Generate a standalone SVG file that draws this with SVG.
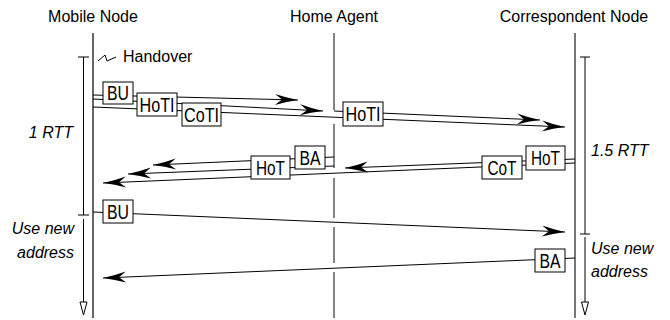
<svg xmlns="http://www.w3.org/2000/svg" width="670" height="320" viewBox="0 0 670 320">
<style>
.hdr { font-family: "Liberation Sans", Arial, sans-serif; font-size: 16px; fill: #000; text-anchor: middle; }
.note { font-family: "Liberation Sans", Arial, sans-serif; font-size: 16px; font-style: italic; fill: #000; }
.lbl { font-family: "Liberation Sans", Arial, sans-serif; font-size: 16px; fill: #000; }
.msg { stroke: #000; stroke-width: 1; fill: none; marker-end: url(#ah); }
.box rect { fill: #fff; stroke: #000; stroke-width: 1; }
.box text { font-family: "Liberation Sans", Arial, sans-serif; font-size: 20px; fill: #000; text-anchor: middle; }
.bar { stroke: #000; stroke-width: 1; fill: none; }
.tri { stroke: #000; stroke-width: 1; fill: #fff; }
</style>
<defs>
<marker id="ah" viewBox="-24 -6 25 12" markerWidth="25" markerHeight="12" refX="0" refY="0" orient="auto" markerUnits="userSpaceOnUse">
<path d="M0,0 Q-12,-2 -23,-5.5 L-16,0 L-23,5.5 Q-12,2 0,0 Z" fill="#000"/>
</marker>
</defs>
<rect width="670" height="320" fill="#fff"/>

<g id="mobile-node">
<text class="hdr" x="93" y="22">Mobile Node</text>
<line x1="93" y1="33" x2="93" y2="318" stroke="#000" stroke-width="1.2"/>
</g>
<g id="home-agent">
<text class="hdr" x="334" y="22">Home Agent</text>
<path d="M334,33 V110 M334,124 V168 M334,178 V218 M334,227 V263 M334,272 V318" stroke="#333" stroke-width="1.2" fill="none"/>
</g>
<g id="correspondent-node">
<text class="hdr" x="574" y="22">Correspondent Node</text>
<line x1="575" y1="33" x2="575" y2="318" stroke="#777" stroke-width="2"/>
</g>

<g id="handover">
<path d="M98,61 L105,55 L107,61 L116,57" stroke="#000" stroke-width="1" fill="none"/>
<text class="lbl" x="123" y="62">Handover</text>
</g>

<g id="time-bars">
<path class="bar" d="M78,57 H89 M83.5,57 V215 M78,215 H89 M83.5,219 V302"/>
<path class="tri" d="M80,302 H87 L83.5,315 Z"/>
<path class="bar" d="M580,57 H590 M585,57 V234 M580,234 H590 M585,237 V302"/>
<path class="tri" d="M581.5,302 H588.5 L585,315 Z"/>
<text class="note" x="73" y="138" text-anchor="end">1 RTT</text>
<text class="note" x="591" y="156">1.5 RTT</text>
<text class="note" x="74" y="234" text-anchor="end">Use new</text>
<text class="note" x="74" y="258" text-anchor="end">address</text>
<text class="note" x="591" y="254">Use new</text>
<text class="note" x="591" y="277">address</text>
</g>

<g id="connectors">
<line class="msg" x1="93" y1="95" x2="298" y2="100"/>
<line class="msg" x1="93" y1="99" x2="323" y2="111"/>
<line class="msg" x1="93" y1="107" x2="565" y2="127"/>
<line class="msg" x1="334" y1="111" x2="540" y2="120"/>
<line class="msg" x1="334" y1="157" x2="153" y2="165"/>
<line class="msg" x1="334" y1="166" x2="128" y2="174"/>
<line class="msg" x1="575" y1="163" x2="103" y2="183"/>
<line class="msg" x1="575" y1="159" x2="345" y2="168"/>
<line class="msg" x1="93" y1="212" x2="565" y2="232"/>
<line class="msg" x1="575" y1="258" x2="103" y2="278"/>
</g>

<g id="bu1" class="box"><rect x="103" y="82" width="30" height="22"/><text x="118" y="100" textLength="22" lengthAdjust="spacingAndGlyphs">BU</text></g>
<g id="hoti1" class="box"><rect x="137" y="93" width="40" height="23"/><text x="157" y="111.5" textLength="35" lengthAdjust="spacingAndGlyphs">HoTI</text></g>
<g id="coti" class="box"><rect x="182" y="103" width="39" height="23"/><text x="201.5" y="121.5" textLength="35" lengthAdjust="spacingAndGlyphs">CoTI</text></g>
<g id="hoti2" class="box"><rect x="343" y="102" width="40" height="24"/><text x="363" y="121" textLength="35" lengthAdjust="spacingAndGlyphs">HoTI</text></g>
<g id="ba1" class="box"><rect x="295" y="146" width="30" height="23"/><text x="310" y="164.5" textLength="21" lengthAdjust="spacingAndGlyphs">BA</text></g>
<g id="hot1" class="box"><rect x="251" y="156" width="39" height="23"/><text x="270.5" y="174.5" textLength="29" lengthAdjust="spacingAndGlyphs">HoT</text></g>
<g id="cot" class="box"><rect x="482" y="156" width="40" height="23"/><text x="502" y="174.5" textLength="29" lengthAdjust="spacingAndGlyphs">CoT</text></g>
<g id="hot2" class="box"><rect x="526" y="146" width="39" height="24"/><text x="545.5" y="165" textLength="29" lengthAdjust="spacingAndGlyphs">HoT</text></g>
<g id="bu2" class="box"><rect x="103" y="200" width="30" height="23"/><text x="118" y="218.5" textLength="22" lengthAdjust="spacingAndGlyphs">BU</text></g>
<g id="ba2" class="box"><rect x="535" y="249" width="30" height="23"/><text x="550" y="267.5" textLength="21" lengthAdjust="spacingAndGlyphs">BA</text></g>
</svg>
